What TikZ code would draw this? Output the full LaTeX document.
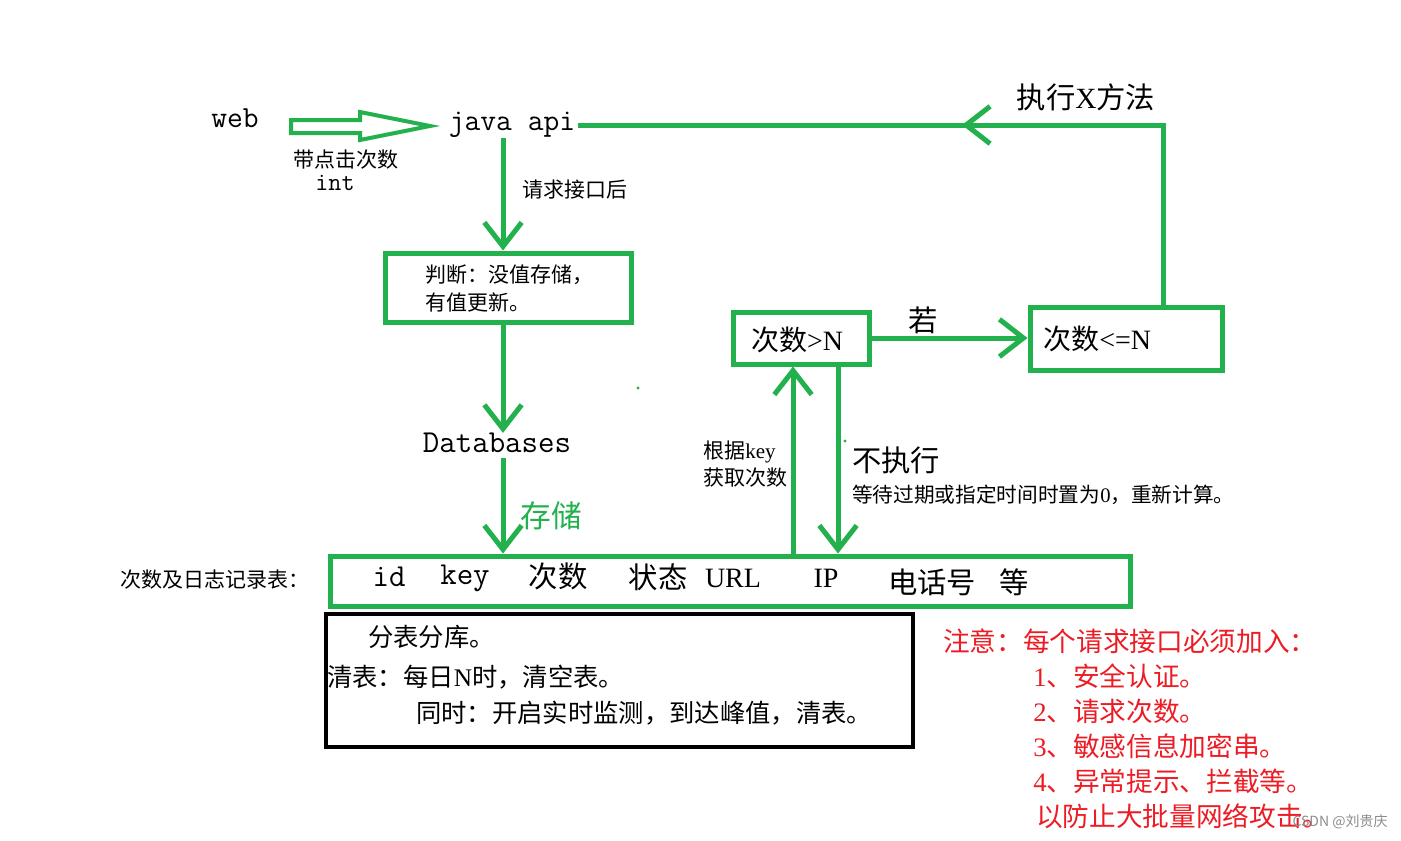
\documentclass[tikz,border=0pt]{standalone}
\usepackage{fontspec}
\setmainfont{Liberation Serif}
\newfontfamily\cjk{Noto Sans CJK SC}
\newcommand\zh[1]{{\cjk #1}}
\usetikzlibrary{arrows.meta,calc}
\definecolor{pg}{RGB}{34,177,76}
\definecolor{pr}{RGB}{237,28,36}
\begin{document}
\begin{tikzpicture}[x=0.75pt,y=-0.75pt,
  gline/.style={draw=pg,line width=3.75pt},
  arr/.style={-{Straight Barb[length=18pt,width=28pt]}},
  gbox/.style={draw=pg,line width=3.75pt,inner sep=0pt},
  tt/.style={inner sep=0pt,font=\ttfamily\fontsize{#1}{#1}\selectfont\addfontfeatures{FakeBold=1}},
  rm/.style={inner sep=0pt,font=\fontsize{#1}{#1}\selectfont},
  zhs/.style={inner sep=0pt,font=\cjk\fontsize{#1}{#1}\selectfont},
  red/.style={inner sep=0pt,anchor=west,text=pr,font=\fontsize{20pt}{20pt}\selectfont},
]
\useasboundingbox (0,0) rectangle (1401,840);
\fill[white] (0,0) rectangle (1401,840);

% columns
\coordinate (colA) at (503,0);
\coordinate (colB) at (793,0);
\coordinate (colC) at (838,0);
\coordinate (colD) at (1163,0);

% top row
\node[tt=23pt] (web) at (235,118) {web};
\node[tt=23pt] (java) at (512,125) {java api};
\draw[pg,line width=3pt] (291,120) -- (360,120) -- (360,112) -- (430,126) -- (360,140) -- (360,133) -- (291,133) -- cycle;
\node[zhs=15.75pt] (dj) at (346,160) {带点击次数};
\node[tt=19pt] (int) at (335,183) {int};
\node[zhs=15.75pt] (qq) at (575,190) {请求接口后};

% judge box
\node[gbox,minimum width=184.5pt,minimum height=51.75pt] (pd) at (508,287.5) {};
\node[zhs=15.75pt,anchor=west] (pd1) at (425,275) {判断：没值存储，};
\node[zhs=15.75pt,anchor=west] (pd2) at (425,302) {有值更新。};

\node[tt=24pt] (db) at (497,443) {Databases};
\node[zhs=23pt,text=pg] (cc) at (551,516) {存储};

% table
\node[gbox,minimum width=600pt,minimum height=37.5pt] (tb) at (730,581) {};
\node[zhs=15.75pt] (tbl) at (215,580) {次数及日志记录表：};
\node[tt=24pt] (t1) at (389,577) {id};
\node[tt=24pt] (t2) at (465,578) {key};
\node[zhs=22pt] (t3) at (558,576) {次数};
\node[zhs=22pt] (t4) at (658,577) {状态};
\node[rm=21pt] (t5) at (733,578) {URL};
\node[rm=21pt] (t6) at (826,578) {IP};
\node[zhs=22pt] (t7) at (932,582) {电话号};
\node[zhs=22pt] (t8) at (1014,582) {等};

% black box
\node[draw=black,line width=3pt,minimum width=440.25pt,minimum height=99.75pt,inner sep=0pt] (bb) at (619.5,680.5) {};
\node[zhs=19pt,anchor=west] (b1) at (368,637) {分表分库。};
\node[rm=19pt,anchor=west] (b2) at (327,677) {\zh{清表：每日}N\zh{时，清空表。}};
\node[zhs=19pt,anchor=west] (b3) at (416,713) {同时：开启实时监测，到达峰值，清表。};

% count boxes
\node[gbox,minimum width=102pt,minimum height=39pt] (gt) at (801,338) {};
\node[rm=21pt] (gtt) at (797,340) {\zh{次数}>N};
\node[gbox,minimum width=144pt,minimum height=47.25pt] (le) at (1126,338.5) {};
\node[rm=21pt,anchor=west] (let) at (1043,339) {\zh{次数}<=N};
\node[zhs=22pt] (ruo) at (923,320) {若};
\node[rm=22pt] (zx) at (1086,97) {\zh{执行}X\zh{方法}};

\node[rm=15.75pt,anchor=west] (gj1) at (703,452) {\zh{根据}key};
\node[zhs=15.75pt,anchor=west] (gj2) at (703,478) {获取次数};
\node[zhs=22pt,anchor=west] (bzx) at (852,460) {不执行};
\node[rm=15.5pt,anchor=west] (dd) at (852,495) {\zh{等待过期或指定时间时置为}0\zh{，重新计算。}};

% red notes
\node[red] (r0) at (943,641) {\zh{注意：每个请求接口必须加入：}};
\node[red] (r1) at (1033,676) {1\zh{、安全认证。}};
\node[red] (r2) at (1033,711) {2\zh{、请求次数。}};
\node[red] (r3) at (1033,746) {3\zh{、敏感信息加密串。}};
\node[red] (r4) at (1033,781) {4\zh{、异常提示、拦截等。}};
\node[red] (r5) at (1036,816) {\zh{以防止大批量网络攻击。}};
\node[inner sep=0pt,text=black!45,font=\cjk\fontsize{10.5pt}{10.5pt}\selectfont] (csdn) at (1340,822) {CSDN @刘贵庆};

% connectors
\draw[gline,arr] (java.south -| colA) -- (pd.north -| colA);
\draw[gline,arr] (pd.south -| colA) -- (db.north -| colA);
\draw[gline,arr,shorten <=4pt] (db.south -| colA) -- (tb.north -| colA);
\draw[gline,arr] (tb.north -| colB) -- (gt.south -| colB);
\draw[gline,arr] (gt.south -| colC) -- (tb.north -| colC);
\draw[gline,arr] (gt.east) -- (gt.east -| le.west);
\draw[gline,shorten >=2pt] (le.north -| colD) |- (java.east);
\coordinate (xt) at (962,125);
\draw[gline,arr] ($(xt)+(12,0)$) -- (xt);

% small dots
\fill[pg] (638,388) circle (1.6);
\fill[pg] (845,441) circle (1.6);
\end{tikzpicture}
\end{document}
